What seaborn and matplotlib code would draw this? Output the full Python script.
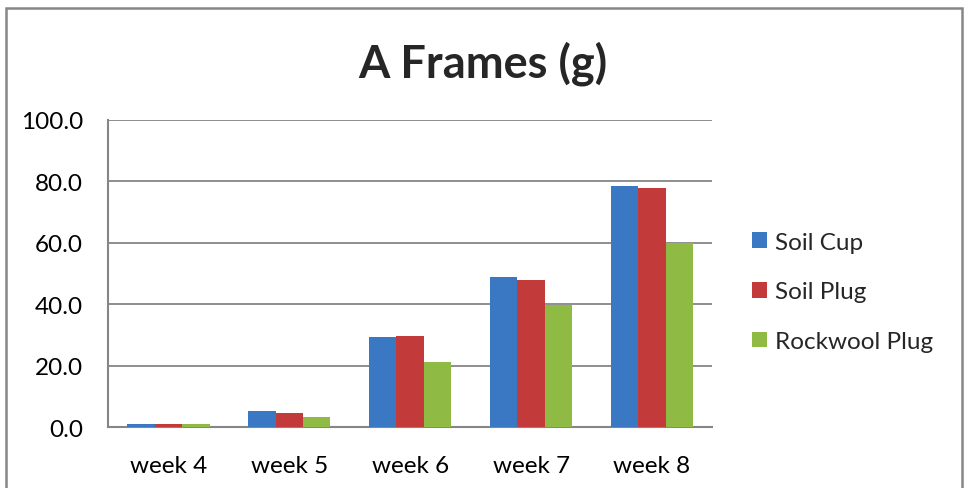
import numpy as np
import pandas as pd
import seaborn as sns
import matplotlib.pyplot as plt
from matplotlib.patches import Rectangle

# data
weeks = ["week 4", "week 5", "week 6", "week 7", "week 8"]
soil_cup = [1.0, 5.3, 29.2, 48.8, 78.6]
soil_plug = [1.1, 4.5, 29.8, 47.9, 77.8]
rockwool_plug = [1.0, 3.3, 21.1, 39.7, 59.9]
series_names = ["Soil Cup", "Soil Plug", "Rockwool Plug"]
colors = ["#3b78c3", "#c23a39", "#8fba44"]

df = pd.DataFrame({"week": weeks, "Soil Cup": soil_cup,
                   "Soil Plug": soil_plug, "Rockwool Plug": rockwool_plug})
df = df.melt(id_vars="week", var_name="series", value_name="grams")

sns.set_style("white")
plt.rcParams['font.family'] = ['Lato', 'DejaVu Sans']

fig = plt.figure(figsize=(9.64, 4.89), dpi=100)
ax = fig.add_axes([0.112, 0.1247, 0.627, 0.628])

sns.barplot(data=df, x="week", y="grams", hue="series", hue_order=series_names,
            palette=colors, width=0.68, gap=0, saturation=1, ax=ax, errorbar=None,
            edgecolor="none", zorder=3)

ax.set_ylim(0, 100)
ax.set_yticks(np.arange(0, 101, 20))
ax.set_yticklabels([f"{v:.1f}" for v in np.arange(0, 101, 20)])
ax.grid(axis="y", color="#868686", linewidth=1.3, zorder=0)
ax.set_axisbelow(True)
ax.set_xlabel("")
ax.set_ylabel("")
ax.tick_params(axis="both", length=0, labelsize=17.5, colors="black")
ax.tick_params(axis="y", pad=18)
ax.tick_params(axis="x", pad=20)
for side in ["top", "right"]:
    ax.spines[side].set_visible(False)
for side in ["left", "bottom"]:
    ax.spines[side].set_color("#868686")
    ax.spines[side].set_linewidth(1.5)

fig.suptitle("A Frames (g)", x=0.501, y=0.915, fontsize=32.5, fontweight="bold")

handles, labels = ax.get_legend_handles_labels()
ax.legend(handles, labels, loc="center left", bbox_to_anchor=(1.03, 0.44),
          frameon=False, fontsize=17.5, handlelength=0.6, handleheight=0.6,
          handletextpad=0.35, labelspacing=1.18)

# outer chart border
fig.patches.append(Rectangle((0.0065, -0.05), 0.991, 1.032, transform=fig.transFigure,
                             fill=False, edgecolor="#868686", linewidth=1.8))

fig.savefig("out.png", dpi=100)
